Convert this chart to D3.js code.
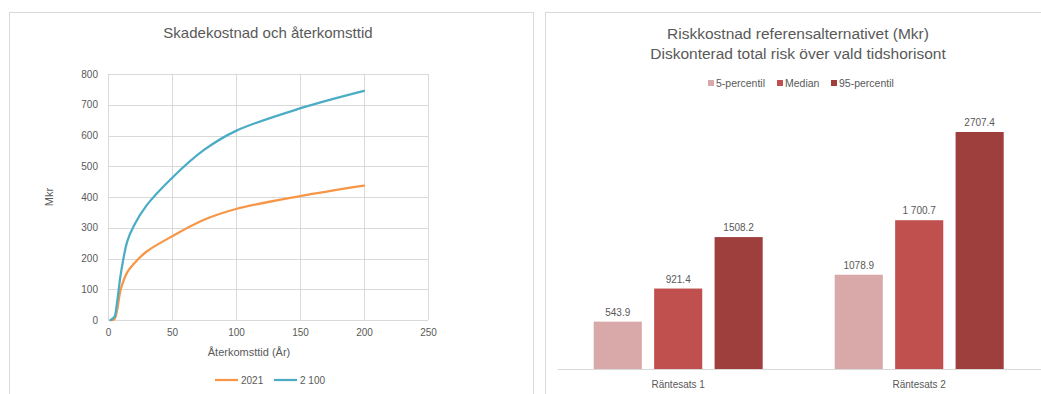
<!DOCTYPE html>
<html><head><meta charset="utf-8">
<script src="https://cdn.jsdelivr.net/npm/d3@7"></script>
<style>
html,body{margin:0;padding:0;background:#fff;}
svg{display:block;font-family:"Liberation Sans",Arial,sans-serif;}
</style></head>
<body>
<svg id="c" width="1041" height="394"></svg>
<script>
// ---- Left chart data ----
const returnPeriods = [2, 5, 7, 10, 15, 20, 30, 50, 75, 100, 150, 200];
const cost2021 = [0, 3, 30, 100, 155, 182, 222, 272, 326, 361, 403, 437];
const cost2100 = [0, 10, 55, 150, 255, 305, 372, 462, 553, 615, 688, 745];
const lineSeriesNames = ["2021", "2 100"];
const xTicks = [0, 50, 100, 150, 200, 250];
const yTicks = [0, 100, 200, 300, 400, 500, 600, 700, 800];

// ---- Right chart data ----
const barCategories = ["Räntesats 1", "Räntesats 2"];
const barSeriesNames = ["5-percentil", "Median", "95-percentil"];
const p5 = [543.9, 1078.9];
const median = [921.4, 1700.7];
const p95 = [1508.2, 2707.4];
const barLabels = [["543.9", "921.4", "1508.2"], ["1078.9", "1 700.7", "2707.4"]];

const svg = d3.select("#c");
const txt = "#595959";
const grid = "#D9D9D9";

// panel borders
svg.append("rect").attr("x", 9.5).attr("y", 12.5).attr("width", 524).attr("height", 400)
  .attr("fill", "none").attr("stroke", grid);
svg.append("rect").attr("x", 545.5).attr("y", 12.5).attr("width", 520).attr("height", 400)
  .attr("fill", "none").attr("stroke", grid);

// ================= Left chart =================
const x = d3.scaleLinear().domain([0, 250]).range([108, 428]);
const y = d3.scaleLinear().domain([0, 800]).range([320, 74]);
const L = svg.append("g");

L.append("text").attr("x", 268).attr("y", 38).attr("text-anchor", "middle")
  .attr("font-size", 15).attr("fill", txt).text("Skadekostnad och återkomsttid");

// gridlines
L.selectAll(".hg").data(yTicks).join("line")
  .attr("x1", x(0)).attr("x2", x(250))
  .attr("y1", d => Math.round(y(d)) + 0.5).attr("y2", d => Math.round(y(d)) + 0.5)
  .attr("stroke", grid).attr("stroke-width", 1);
L.selectAll(".vg").data(xTicks).join("line")
  .attr("y1", y(0)).attr("y2", y(800))
  .attr("x1", d => Math.round(x(d)) + 0.5).attr("x2", d => Math.round(x(d)) + 0.5)
  .attr("stroke", grid).attr("stroke-width", 1);

// axes
const yAxis = d3.axisLeft(y).tickValues(yTicks).tickSize(0).tickPadding(10);
const gy = L.append("g").attr("transform", `translate(${x(0)},0)`).call(yAxis);
gy.select(".domain").remove();
gy.selectAll("text").attr("font-size", 10).attr("fill", txt).attr("font-family", "Liberation Sans, Arial, sans-serif");

const xAxis = d3.axisBottom(x).tickValues(xTicks).tickSize(0).tickPadding(9);
const gx = L.append("g").attr("transform", `translate(0,${y(0)})`).call(xAxis);
gx.select(".domain").remove();
gx.selectAll("text").attr("font-size", 10).attr("fill", txt).attr("font-family", "Liberation Sans, Arial, sans-serif");

L.append("text").attr("x", 249).attr("y", 356).attr("text-anchor", "middle")
  .attr("font-size", 11).attr("fill", txt).text("Återkomsttid (År)");
L.append("text").attr("transform", "translate(53,197) rotate(-90)").attr("text-anchor", "middle")
  .attr("font-size", 11).attr("fill", txt).text("Mkr");

const lineColors = ["#F79646", "#4BACC6"];
const line = d3.line().x(d => x(d[0])).y(d => y(d[1])).curve(d3.curveCatmullRom.alpha(0.5));
[cost2021, cost2100].forEach((vals, i) => {
  L.append("path").datum(returnPeriods.map((r, j) => [r, vals[j]]))
    .attr("d", line).attr("fill", "none").attr("stroke", lineColors[i])
    .attr("stroke-width", 2.25).attr("stroke-linecap", "round");
});

// legend
const legX = [215, 274];
lineSeriesNames.forEach((n, i) => {
  L.append("line").attr("x1", legX[i]).attr("x2", legX[i] + 23).attr("y1", 380).attr("y2", 380)
    .attr("stroke", lineColors[i]).attr("stroke-width", 2.25);
  L.append("text").attr("x", legX[i] + 26).attr("y", 383.5).attr("font-size", 10)
    .attr("fill", txt).text(n);
});

// ================= Right chart =================
const R = svg.append("g");
R.append("text").attr("x", 798).attr("y", 39).attr("text-anchor", "middle")
  .attr("font-size", 15.5).attr("fill", txt).text("Riskkostnad referensalternativet (Mkr)");
R.append("text").attr("x", 798).attr("y", 59).attr("text-anchor", "middle")
  .attr("font-size", 15.5).attr("fill", txt).text("Diskonterad total risk över vald tidshorisont");

const barColors = ["#D9A9A9", "#C0504D", "#9E3F3D"];
const x0 = d3.scaleBand().domain(barCategories).range([557.7, 1039.7]).padding(0);
const x1 = d3.scaleBand().domain(barSeriesNames).range([36, x0.bandwidth() - 36]).paddingInner(0.204).paddingOuter(0);
const yb = d3.scaleLinear().domain([0, 3000]).range([369.3, 106.35]);

const seriesVals = [p5, median, p95];
const groups = R.selectAll(".grp").data(barCategories).join("g")
  .attr("transform", d => `translate(${x0(d)},0)`);
groups.each(function (cat, ci) {
  const g = d3.select(this);
  barSeriesNames.forEach((s, si) => {
    const v = seriesVals[si][ci];
    g.append("rect").attr("x", x1(s)).attr("width", x1.bandwidth())
      .attr("y", yb(v)).attr("height", yb(0) - yb(v)).attr("fill", barColors[si]);
    g.append("text").attr("x", x1(s) + x1.bandwidth() / 2).attr("y", yb(v) - 6)
      .attr("text-anchor", "middle").attr("font-size", 10).attr("fill", txt)
      .text(barLabels[ci][si]);
  });
  g.append("text").attr("x", x0.bandwidth() / 2).attr("y", 387.5).attr("text-anchor", "middle")
    .attr("font-size", 10).attr("fill", txt).text(cat);
});

// baseline
R.append("line").attr("x1", 557.7).attr("x2", 1041).attr("y1", 369.5).attr("y2", 369.5)
  .attr("stroke", grid).attr("stroke-width", 1);

// legend
const legBX = [708, 777, 831];
barSeriesNames.forEach((n, i) => {
  R.append("rect").attr("x", legBX[i]).attr("y", 80).attr("width", 6).attr("height", 6).attr("fill", barColors[i]);
  R.append("text").attr("x", legBX[i] + 8).attr("y", 86.5).attr("font-size", 10.5).attr("fill", txt).text(n);
});
</script>
</body></html>
